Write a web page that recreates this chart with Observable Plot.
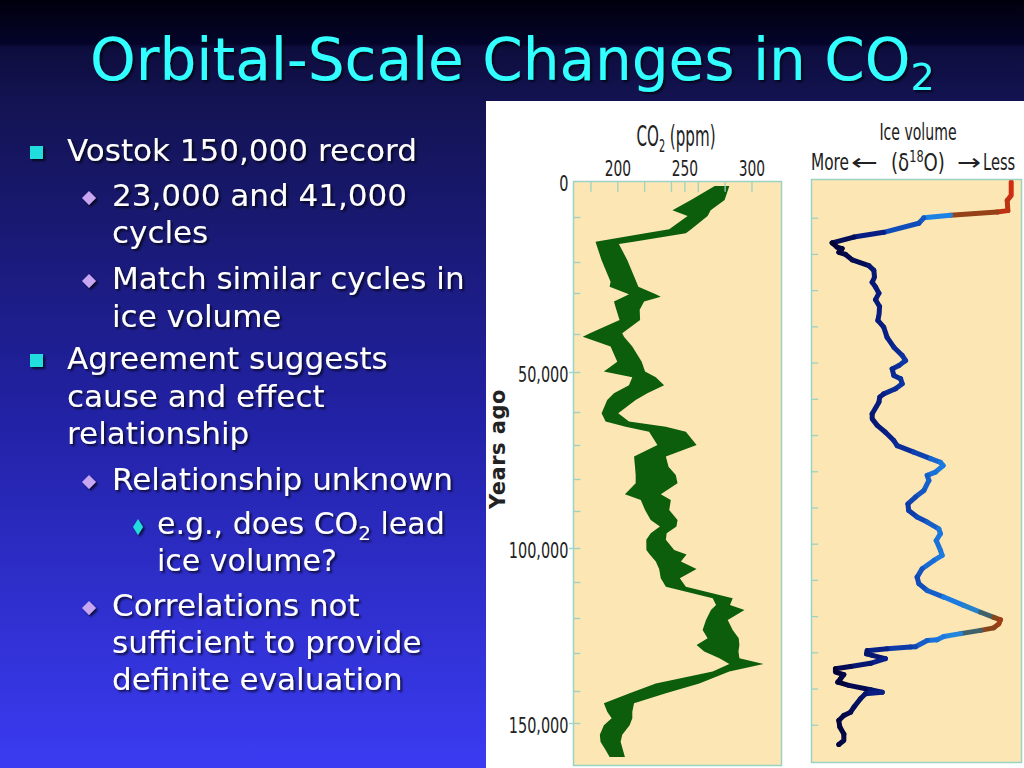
<!DOCTYPE html>
<html>
<head>
<meta charset="utf-8">
<script src="https://cdn.jsdelivr.net/npm/d3@7"></script>
<script src="https://cdn.jsdelivr.net/npm/@observablehq/plot@0.6"></script>
<style>
  html, body { margin: 0; padding: 0; }
  body {
    width: 1024px; height: 768px; overflow: hidden; position: relative;
    background: linear-gradient(180deg, #00000d 0px, #04042a 44px, #0d0d3d 47px, #131352 100px, #2222a6 420px, #3b3bf2 768px);
  }
  #slide, #heads { position: absolute; left: 0; top: 0; }
  #box { position: absolute; left: 486px; top: 101px; width: 538px; height: 667px; background: #ffffff; }
  #co2 { position: absolute; left: 486px; top: 100px; }
  #ice { position: absolute; left: 800px; top: 100px; }
  #heads { pointer-events: none; }
</style>
</head>
<body>
<svg id="slide" width="1024" height="768">
  <defs>
    <filter id="sh" x="-5%" y="-30%" width="115%" height="160%">
      <feDropShadow dx="2" dy="2" stdDeviation="0.8" flood-color="#000" flood-opacity="0.7"/>
    </filter>
  </defs>
  <g filter="url(#sh)">
    <text x="90" y="80" font-family="DejaVu Sans" font-size="58" fill="#33ffff">Orbital-Scale Changes in CO<tspan font-size="38" dy="10">2</tspan></text>
  </g>
  <g filter="url(#sh)">
    <rect x="30" y="146" width="13" height="13" fill="#22dddd"/>
    <rect x="30" y="354" width="13" height="13" fill="#22dddd"/>
    <polygon points="89,191 96,198 89,205 82,198" fill="#c8a6f2"/>
    <polygon points="89,274 96,281 89,288 82,281" fill="#c8a6f2"/>
    <polygon points="89,475 96,482 89,489 82,482" fill="#c8a6f2"/>
    <polygon points="89,601 96,608 89,615 82,608" fill="#c8a6f2"/>
    <polygon points="138,519 143,527 138,535 133,527" fill="#22dddd"/>
  </g>
  <g filter="url(#sh)" font-family="DejaVu Sans" font-size="31" fill="#ffffff">
    <text x="67" y="161">Vostok 150,000 record</text>
    <text x="112" y="206">23,000 and 41,000</text>
    <text x="112" y="243">cycles</text>
    <text x="112" y="289">Match similar cycles in</text>
    <text x="112" y="327">ice volume</text>
    <text x="67" y="369">Agreement suggests</text>
    <text x="67" y="407">cause and effect</text>
    <text x="67" y="444">relationship</text>
    <text x="112" y="490">Relationship unknown</text>
    <text x="157" y="534" font-size="30">e.g., does CO<tspan font-size="20" dy="6">2</tspan><tspan dy="-6"> lead</tspan></text>
    <text x="157" y="571" font-size="30">ice volume?</text>
    <text x="112" y="616">Correlations not</text>
    <text x="112" y="653">sufficient to provide</text>
    <text x="112" y="690">definite evaluation</text>
  </g>
</svg>
<div id="box"></div>
<div id="co2"></div>
<div id="ice"></div>
<svg id="heads" width="1024" height="768" font-family="'Liberation Sans Narrow', 'DejaVu Sans Condensed', 'Liberation Sans', sans-serif" fill="#222">
  <text transform="translate(676,146) scale(0.6,1)" text-anchor="middle" font-size="28">CO<tspan font-size="18" dy="6">2</tspan><tspan dy="-6"> (ppm)</tspan></text>
  <text transform="translate(918,140) scale(0.68,1)" text-anchor="middle" font-size="23">Ice volume</text>
  <text transform="translate(811,170) scale(0.74,1)" font-size="23">More</text>
  <text transform="translate(851,170) scale(1.4,1)" font-size="23" font-family="DejaVu Sans">←</text>
  <text transform="translate(891,171) scale(0.84,1)" font-size="24">(δ<tspan font-size="15" dy="-9">18</tspan><tspan dy="9">O)</tspan></text>
  <text transform="translate(957,170) scale(1.25,1)" font-size="23" font-family="DejaVu Sans">→</text>
  <text transform="translate(983,170) scale(0.71,1)" font-size="23">Less</text>
  <text transform="translate(505,449) rotate(-90)" text-anchor="middle" font-size="21" font-weight="bold" font-family="DejaVu Sans" letter-spacing="0.5">Years ago</text>
</svg>
<script>
// ---- CO2 (Vostok) band: years ago, low and high edge in ppm ----
const co2Years = [1400, 5300, 8100, 9700, 12700, 13600, 15500, 16000, 19600, 26400, 28000, 30300, 30900, 32100, 34100, 36600, 39800, 40700, 43300, 47300, 49900, 51300, 53300, 55300, 57000, 60400, 62900, 64500, 66000, 70000, 73400, 76400, 78800, 81300, 84800, 86600, 89700, 92400, 94200, 96000, 97800, 100600, 101900, 104000, 106200, 108900, 111300, 114500, 116400, 117800, 120600, 123400, 125800, 127700, 129600, 131400, 132900, 134900, 138000, 140700, 143800, 146500, 148500, 150600, 153300, 155200, 157500, 159500];
const co2Low = [272.6, 254.9, 241.1, 252.4, 238.7, 220.9, 183.8, 184.3, 188.3, 195.0, 194.3, 208.7, 205.0, 197.5, 199.3, 201.7, 179.6, 174.3, 195.0, 200.0, 190.0, 211.2, 208.7, 197.5, 192.5, 188.3, 191.3, 206.2, 223.7, 229.9, 212.5, 213.2, 213.7, 213.7, 205.7, 217.5, 220.7, 224.9, 231.8, 224.9, 221.6, 221.7, 224.2, 228.7, 231.2, 232.4, 236.2, 271.1, 273.6, 269.8, 266.1, 263.6, 267.3, 259.1, 264.8, 276.1, 283.5, 271.1, 228.7, 209.2, 190.0, 192.5, 195.8, 190.0, 187.0, 187.5, 191.3, 194.3];
const co2High = [283.5, 280.0, 269.6, 267.3, 255.1, 251.1, 212.2, 201.2, 207.5, 214.2, 215.7, 228.7, 232.4, 220.0, 216.7, 217.0, 203.7, 205.0, 211.2, 218.2, 220.7, 228.7, 234.9, 222.4, 213.7, 200.7, 208.7, 236.2, 251.1, 259.1, 236.2, 238.2, 243.6, 244.9, 232.4, 239.9, 238.7, 244.9, 244.1, 236.8, 236.2, 242.4, 251.6, 247.4, 259.1, 246.6, 251.1, 286.0, 284.0, 294.8, 282.3, 286.0, 290.5, 291.0, 290.3, 291.0, 309.0, 283.5, 261.1, 236.2, 212.5, 211.2, 211.2, 209.2, 203.7, 202.5, 204.2, 205.7];

// ---- Ice volume (delta 18O), relative position 0 = more ice, 100 = less ice ----
const iceYears = [0, 3700, 5100, 7900, 8300, 9200, 9900, 11400, 13900, 15200, 16800, 18000, 18400, 19400, 20000, 21500, 23100, 24400, 26300, 27700, 29000, 30700, 32500, 34400, 36400, 38200, 40100, 42900, 45600, 47900, 49300, 50700, 51600, 53400, 54300, 55700, 57100, 58500, 59400, 60800, 64000, 65400, 67200, 69100, 71400, 72800, 74600, 76400, 77400, 78300, 80100, 81000, 82400, 85200, 87000, 88900, 90700, 92500, 93900, 95800, 97100, 99000, 101700, 103100, 104500, 106800, 109100, 110900, 112800, 114600, 116900, 118800, 120200, 120900, 122000, 123100, 123800, 124700, 125500, 126400, 126600, 128300, 128400, 128900, 129400, 130300, 130700, 131600, 132900, 133800, 134400, 135300, 136000, 137200, 138100, 139000, 140200, 140900, 141300, 142700, 145000, 146400, 147300, 148700, 150500, 152400, 154200, 155300];
const iceValue = [95.1, 95.1, 93.2, 93.5, 88.4, 66.2, 53.5, 51.1, 34.4, 20.2, 9.8, 12.2, 14.6, 13.0, 16.2, 19.4, 27.3, 29.7, 30.0, 28.9, 30.5, 32.1, 30.5, 32.4, 32.2, 31.6, 34.4, 36.0, 39.2, 43.2, 44.8, 41.6, 38.4, 39.2, 42.4, 43.2, 40.0, 34.4, 32.5, 32.1, 28.9, 28.9, 31.3, 35.2, 39.2, 40.8, 48.7, 56.7, 61.4, 62.7, 59.0, 55.1, 55.9, 53.5, 49.5, 45.9, 46.3, 50.3, 55.1, 60.6, 61.4, 59.4, 61.4, 62.2, 58.3, 52.7, 50.3, 51.1, 55.1, 63.0, 72.5, 80.5, 86.8, 90.0, 89.2, 86.8, 80.5, 71.0, 63.0, 59.8, 55.1, 49.5, 47.1, 36.0, 26.5, 26.2, 28.9, 35.2, 28.1, 18.6, 11.4, 11.4, 15.4, 13.8, 12.5, 17.8, 28.1, 33.7, 25.7, 23.3, 20.2, 18.6, 15.4, 13.0, 13.5, 15.4, 15.4, 13.0];

// ---- axes ----
const co2Ticks = [180, 200, 220, 240, 250, 260, 280, 300];
const co2TickLabels = [200, 250, 300];
const yearTicks = [10000, 20000, 30000, 40000, 50000, 60000, 70000, 80000, 90000, 100000, 110000, 120000, 130000, 140000, 150000];
const yearLabels = [0, 50000, 100000, 150000];

const co2 = co2Years.map((yr, i) => ({yr, lo: co2Low[i], hi: co2High[i]}));
const ice = iceYears.map((yr, i) => ({yr, v: iceValue[i]}));

const BEIGE = "#fce6b4";
const TEAL = "#9bd2c4";
const NARROW = "'Liberation Sans Narrow', 'DejaVu Sans Condensed', 'Liberation Sans', sans-serif";

// The CO2 panel's hand-drawn age axis is unevenly spaced: depth down the panel
// at each 10,000-year tick.
const co2AgeAxis = d3.scaleLinear()
  .domain([0, 10000, 20000, 30000, 40000, 50000, 60000, 70000, 80000, 90000, 100000, 110000, 120000, 130000, 140000, 150000, 161700])
  .range([0, 36, 81, 112, 153, 191, 231, 264, 298, 330, 367, 401, 437, 472, 510, 542, 584]);

const co2Plot = Plot.plot({
  width: 310, height: 668,
  marginLeft: 87, marginRight: 15, marginTop: 81, marginBottom: 3,
  style: {background: "transparent", overflow: "visible"},
  x: {domain: [167, 322], axis: null},
  y: {transform: co2AgeAxis, domain: [0, 584], range: [81, 665], axis: null},
  marks: [
    Plot.frame({fill: BEIGE, stroke: "none"}),
    Plot.areaX(co2, {y: "yr", x1: "lo", x2: "hi", fill: "#0c5e0c"}),
    Plot.ruleX(co2Ticks, {x: d => d, y1: 0, y2: 3000, stroke: TEAL, strokeWidth: 1.3}),
    Plot.ruleY(yearTicks, {y: d => d, x1: 167, x2: 172.5, stroke: TEAL, strokeWidth: 1.3}),
    Plot.ruleY(yearLabels.slice(1), {y: d => d, x1: 164, x2: 167, stroke: TEAL, strokeWidth: 1.3}),
    Plot.text(co2TickLabels, {x: d => d, y: 0, dy: -12, text: d => String(d), fontSize: 21, fontFamily: NARROW, fill: "#222"}),
    Plot.text(yearLabels, {x: 167, y: d => d, dx: -5, dy: 2.5, textAnchor: "end", text: d => d3.format(",")(d), fontSize: 22, fontFamily: NARROW, fill: "#222"}),
    Plot.frame({stroke: TEAL, strokeWidth: 1.5})
  ]
});

// Narrow the tick-label glyphs around their anchors (the figure uses a condensed face).
co2Plot.querySelectorAll('g[aria-label="text"] text').forEach(t => {
  const tr = t.getAttribute("transform");
  if (tr) {
    t.setAttribute("transform", tr + " scale(0.73,1)");
  } else {
    const x = +t.getAttribute("x") || 0, y = +t.getAttribute("y") || 0;
    t.setAttribute("x", 0); t.setAttribute("y", 0);
    t.setAttribute("transform", `translate(${x},${y}) scale(0.73,1)`);
  }
});
document.getElementById("co2").appendChild(co2Plot);

const icePlot = Plot.plot({
  width: 224, height: 668,
  marginLeft: 11, marginRight: 3, marginTop: 79, marginBottom: 6,
  style: {background: "transparent", overflow: "visible"},
  x: {domain: [0, 100], axis: null},
  y: {domain: [0, 160200], range: [81.5, 661.7], axis: null},
  color: {
    type: "linear",
    domain: [10, 22, 35, 48, 60, 70, 80, 87, 93, 96],
    range: ["#000034", "#041060", "#081f86", "#0e3fae", "#1a74dc", "#1e8ae8", "#3a6470", "#8a4418", "#b83414", "#d82a10"]
  },
  marks: [
    Plot.frame({fill: BEIGE, stroke: "none"}),
    Plot.ruleY(yearTicks, {y: d => d, x1: 0, x2: 3.4, stroke: TEAL, strokeWidth: 1.3}),
    Plot.line(ice, {x: "v", y: "yr", z: null, stroke: "v", strokeWidth: 5, strokeLinecap: "round", strokeLinejoin: "round"}),
    Plot.frame({stroke: TEAL, strokeWidth: 1.5})
  ]
});
document.getElementById("ice").appendChild(icePlot);
</script>
</body>
</html>
